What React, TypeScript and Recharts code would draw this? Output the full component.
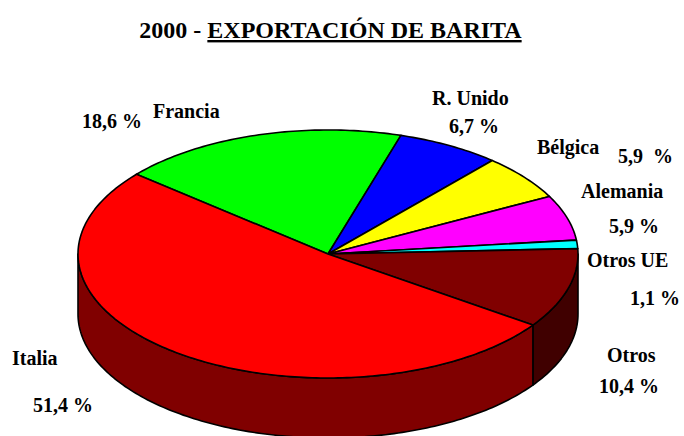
import React from "react";
import { PieChart, Pie } from "recharts";

// slices in clockwise order, starting with Francia
const NAMES = ["Francia", "R. Unido", "Bélgica", "Alemania", "Otros UE", "Otros", "Italia"];
const VALUES = [18.6, 6.7, 5.9, 5.9, 1.1, 10.4, 51.4];

const TOP_COLORS = ["#00ff00", "#0000ff", "#ffff00", "#ff00ff", "#00ffff", "#800000", "#ff0000"];
const SIDE_COLORS = ["#008000", "#000080", "#808000", "#800080", "#008080", "#400000", "#800000"];

// label anchors (left x, baseline y) for name and percentage
const NAME_POS = [[153, 118], [432, 105], [537, 154], [581, 198], [587, 267], [607, 362], [12, 365]];
const PCT_POS = [[82, 128], [449, 133], [618, 163], [609, 233], [630, 305], [599, 393], [33, 412]];
// the original has a double space before "%" on the Bélgica label
const PCT_GAP = [1, 1, 2, 1, 1, 1, 1];

const TILT = 0.496; // vertical squash of the top face
const DEPTH = 60; // height of the side wall
const START = 140;

const FONT = "'Liberation Serif', 'Times New Roman', serif";

const data = NAMES.map((name, i) => ({ name, value: VALUES[i] }));

const pt = (cx: number, cy: number, r: number, a: number, dy = 0) => {
  const rad = (a * Math.PI) / 180;
  return [cx + r * Math.cos(rad), cy - r * TILT * Math.sin(rad) + dy];
};

const arcPts = (cx: number, cy: number, r: number, a0: number, a1: number, dy = 0) => {
  const n = Math.max(2, Math.ceil(Math.abs(a1 - a0)));
  const out: number[][] = [];
  for (let k = 0; k <= n; k++) out.push(pt(cx, cy, r, a0 + ((a1 - a0) * k) / n, dy));
  return out;
};

const toPath = (pts: number[][]) =>
  "M" + pts.map((q) => `${q[0].toFixed(2)},${q[1].toFixed(2)}`).join("L") + "Z";

// side wall: only the part of the rim facing the viewer (lower half)
const renderWall = (p: any) => {
  const { cx, cy, outerRadius: r, startAngle, endAngle, index } = p;
  const lo = Math.min(startAngle, endAngle);
  const hi = Math.max(startAngle, endAngle);
  const parts: React.ReactNode[] = [];
  for (const k of [-1, 0, 1]) {
    const a = Math.max(lo, -180 + 360 * k);
    const b = Math.min(hi, 360 * k);
    if (b - a > 0.01) {
      const top = arcPts(cx, cy, r, a, b);
      const bot = arcPts(cx, cy, r, b, a, DEPTH);
      parts.push(
        <path
          key={k}
          d={toPath([...top, ...bot])}
          fill={SIDE_COLORS[index]}
          stroke="#000"
          strokeWidth={1.6}
          strokeLinejoin="round"
        />
      );
    }
  }
  return <g>{parts}</g>;
};

const renderTop = (p: any) => {
  const { cx, cy, outerRadius: r, startAngle, endAngle, index } = p;
  const pts = [[cx, cy], ...arcPts(cx, cy, r, startAngle, endAngle)];
  return (
    <path
      d={toPath(pts)}
      fill={TOP_COLORS[index]}
      stroke="#000"
      strokeWidth={1.6}
      strokeLinejoin="round"
    />
  );
};

const fmt = (v: number, gap: number) => v.toFixed(1).replace(".", ",") + " ".repeat(gap) + "%";

export default function App() {
  return (
    <div style={{ position: "absolute", left: 0, top: 0, width: 684, height: 436, background: "#fff" }}>
      <PieChart width={684} height={436} margin={{ top: 0, right: 0, bottom: 0, left: 0 }}>
        <Pie
          data={data}
          dataKey="value"
          cx={328}
          cy={254}
          outerRadius={250}
          startAngle={START}
          endAngle={START - 360}
          fill="none"
          stroke="none"
          label={renderWall}
          labelLine={false}
          isAnimationActive={false}
        />
        <Pie
          data={data}
          dataKey="value"
          cx={328}
          cy={254}
          outerRadius={250}
          startAngle={START}
          endAngle={START - 360}
          fill="none"
          stroke="none"
          label={renderTop}
          labelLine={false}
          isAnimationActive={false}
        />
      </PieChart>
      <svg
        width={684}
        height={436}
        style={{ position: "absolute", left: 0, top: 0, pointerEvents: "none", fontFamily: FONT }}
        fontWeight="bold"
      >
        <text x={330.5} y={38} fontSize={24} textAnchor="middle">
          <tspan>2000 - </tspan>
          <tspan style={{ textDecoration: "underline" }}>EXPORTACIÓN DE BARITA</tspan>
        </text>
        {NAMES.map((n, i) => (
          <text key={"n" + i} x={NAME_POS[i][0]} y={NAME_POS[i][1]} fontSize={20}>
            {n}
          </text>
        ))}
        {VALUES.map((v, i) => (
          <text
            key={"p" + i}
            x={PCT_POS[i][0]}
            y={PCT_POS[i][1]}
            fontSize={20}
            style={{ whiteSpace: "pre" }}
          >
            {fmt(v, PCT_GAP[i])}
          </text>
        ))}
      </svg>
    </div>
  );
}
